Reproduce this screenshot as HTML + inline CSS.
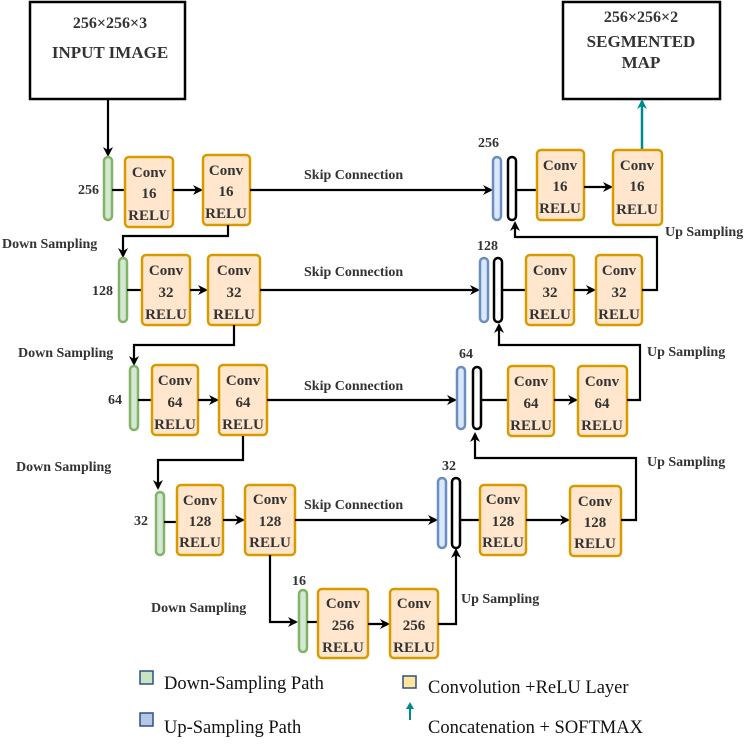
<!DOCTYPE html>
<html><head><meta charset="utf-8"><style>
html,body{margin:0;padding:0;background:#fff;}
svg{display:block;}
svg text{font-family:"Liberation Serif","DejaVu Serif",serif;fill:#333;}
.b{font-weight:bold;font-size:14px;}
.c{font-weight:bold;font-size:15px;text-anchor:middle;}
.lg{font-size:18.5px;fill:#111;}
.cv{fill:#ffe6cc;stroke:#d79b00;stroke-width:2.5;}
.gr{fill:#d5e8d4;stroke:#82b366;stroke-width:2.5;}
.bl{fill:#dae8fc;stroke:#6c8ebf;stroke-width:2.5;}
.bk{fill:#fff;stroke:#000;stroke-width:2.5;}
.ln{fill:none;stroke:#000;stroke-width:2.2;}
</style></head><body>
<svg width="750" height="744" viewBox="0 0 750 744" xmlns="http://www.w3.org/2000/svg" font-family="Liberation Serif, DejaVu Serif, serif">
<defs>
<marker id="a" markerWidth="10" markerHeight="10" refX="8" refY="5" orient="auto" markerUnits="userSpaceOnUse"><path d="M0,0 L10,5 L0,10 L3,5 z" fill="#000"/></marker>
<marker id="t" markerWidth="10" markerHeight="10" refX="8" refY="5" orient="auto" markerUnits="userSpaceOnUse"><path d="M0,0 L10,5 L0,10 L3,5 z" fill="#008b8b"/></marker>
</defs>
<rect x="30" y="2" width="155" height="97" fill="#fff" stroke="#000" stroke-width="2.5"/>
<text class="c" x="110" y="28" style="font-size:16px">256×256×3</text>
<text class="c" x="110" y="58" style="font-size:17px">INPUT IMAGE</text>
<rect x="563" y="2" width="157" height="97" fill="#fff" stroke="#000" stroke-width="2.5"/>
<text class="c" x="641" y="22" style="font-size:16px">256×256×2</text>
<text class="c" x="641" y="47" style="font-size:17px">SEGMENTED</text>
<text class="c" x="641" y="68" style="font-size:17px">MAP</text>
<line class="ln" x1="108" y1="99" x2="108" y2="155" marker-end="url(#a)"/>
<line x1="642" y1="150" x2="642" y2="101" stroke="#008b8b" stroke-width="2.5" marker-end="url(#t)"/>

<rect class="gr" x="104" y="157" width="8" height="63" rx="4"/>
<text class="b" x="78" y="194">256</text>
<line class="ln" x1="112" y1="190" x2="125" y2="190"/>
<rect class="cv" x="125" y="157" width="48" height="70" rx="4"/>
<text class="c" x="149" y="177">Conv</text><text class="c" x="149" y="198">16</text><text class="c" x="149" y="220">RELU</text>
<line class="ln" x1="173" y1="190" x2="201" y2="190" marker-end="url(#a)"/>
<rect class="cv" x="203" y="155" width="47" height="70" rx="4"/>
<text class="c" x="226" y="175">Conv</text><text class="c" x="226" y="196">16</text><text class="c" x="226" y="218">RELU</text>
<line class="ln" x1="250" y1="190" x2="491" y2="190" marker-end="url(#a)"/>
<text class="b" x="304" y="179">Skip Connection</text>
<text class="b" x="478" y="147">256</text>
<rect class="bl" x="493" y="157" width="8" height="63" rx="4"/>
<rect class="bk" x="508" y="157" width="8" height="63" rx="4"/>
<line class="ln" x1="516" y1="190" x2="537" y2="190"/>
<rect class="cv" x="537" y="150" width="47" height="70" rx="4"/>
<text class="c" x="560" y="170">Conv</text><text class="c" x="560" y="191">16</text><text class="c" x="560" y="213">RELU</text>
<line class="ln" x1="584" y1="187" x2="611" y2="187" marker-end="url(#a)"/>
<rect class="cv" x="613" y="150" width="49" height="75" rx="4"/>
<text class="c" x="637" y="170">Conv</text><text class="c" x="637" y="191">16</text><text class="c" x="637" y="214">RELU</text>
<text class="b" x="665" y="236">Up Sampling</text>
<polyline class="ln" points="228,225 228,236 123,236 123,256" marker-end="url(#a)"/>
<text class="b" x="2" y="248">Down Sampling</text>

<rect class="gr" x="119" y="258" width="8" height="64" rx="4"/>
<text class="b" x="92" y="295">128</text>
<line class="ln" x1="127" y1="290" x2="142" y2="290"/>
<rect class="cv" x="142" y="255" width="48" height="70" rx="4"/>
<text class="c" x="166" y="275">Conv</text><text class="c" x="166" y="297">32</text><text class="c" x="166" y="319">RELU</text>
<line class="ln" x1="190" y1="290" x2="206" y2="290" marker-end="url(#a)"/>
<rect class="cv" x="208" y="255" width="52" height="70" rx="4"/>
<text class="c" x="234" y="275">Conv</text><text class="c" x="234" y="297">32</text><text class="c" x="234" y="319">RELU</text>
<line class="ln" x1="260" y1="290" x2="478" y2="290" marker-end="url(#a)"/>
<text class="b" x="304" y="276">Skip Connection</text>
<text class="b" x="477" y="250">128</text>
<rect class="bl" x="480" y="258" width="8" height="64" rx="4"/>
<rect class="bk" x="494" y="258" width="8" height="64" rx="4"/>
<line class="ln" x1="502" y1="290" x2="526" y2="290"/>
<rect class="cv" x="526" y="255" width="48" height="70" rx="4"/>
<text class="c" x="550" y="275">Conv</text><text class="c" x="550" y="297">32</text><text class="c" x="550" y="319">RELU</text>
<line class="ln" x1="574" y1="290" x2="594" y2="290" marker-end="url(#a)"/>
<rect class="cv" x="596" y="255" width="46" height="70" rx="4"/>
<text class="c" x="619" y="275">Conv</text><text class="c" x="619" y="297">32</text><text class="c" x="619" y="319">RELU</text>
<polyline class="ln" points="642,290 657,290 657,237 515,237 515,223" marker-end="url(#a)"/>
<polyline class="ln" points="234,325 234,345 134,345 134,364" marker-end="url(#a)"/>
<text class="b" x="18" y="357">Down Sampling</text>

<rect class="gr" x="130" y="366" width="8" height="64" rx="4"/>
<text class="b" x="108" y="404">64</text>
<line class="ln" x1="138" y1="400" x2="152" y2="400"/>
<rect class="cv" x="152" y="365" width="46" height="70" rx="4"/>
<text class="c" x="175" y="385">Conv</text><text class="c" x="175" y="407">64</text><text class="c" x="175" y="429">RELU</text>
<line class="ln" x1="198" y1="400" x2="217" y2="400" marker-end="url(#a)"/>
<rect class="cv" x="219" y="365" width="48" height="70" rx="4"/>
<text class="c" x="243" y="385">Conv</text><text class="c" x="243" y="407">64</text><text class="c" x="243" y="429">RELU</text>
<line class="ln" x1="267" y1="400" x2="455" y2="400" marker-end="url(#a)"/>
<text class="b" x="304" y="390">Skip Connection</text>
<text class="b" x="459" y="358">64</text>
<rect class="bl" x="457" y="367" width="8" height="62" rx="4"/>
<rect class="bk" x="473" y="367" width="8" height="62" rx="4"/>
<line class="ln" x1="481" y1="400" x2="508" y2="400"/>
<rect class="cv" x="508" y="366" width="46" height="70" rx="4"/>
<text class="c" x="531" y="386">Conv</text><text class="c" x="531" y="408">64</text><text class="c" x="531" y="430">RELU</text>
<line class="ln" x1="554" y1="400" x2="576" y2="400" marker-end="url(#a)"/>
<rect class="cv" x="578" y="366" width="49" height="70" rx="4"/>
<text class="c" x="602" y="386">Conv</text><text class="c" x="602" y="408">64</text><text class="c" x="602" y="430">RELU</text>
<polyline class="ln" points="627,400 640,400 640,345 499,345 499,325" marker-end="url(#a)"/>
<text class="b" x="647" y="356">Up Sampling</text>
<polyline class="ln" points="243,436 243,460 158,460 158,488" marker-end="url(#a)"/>
<text class="b" x="16" y="471">Down Sampling</text>

<rect class="gr" x="156" y="492" width="8" height="63" rx="4"/>
<text class="b" x="134" y="525">32</text>
<line class="ln" x1="164" y1="522" x2="177" y2="522"/>
<rect class="cv" x="177" y="485" width="46" height="70" rx="4"/>
<text class="c" x="200" y="505">Conv</text><text class="c" x="200" y="526">128</text><text class="c" x="200" y="547">RELU</text>
<line class="ln" x1="223" y1="520" x2="243" y2="520" marker-end="url(#a)"/>
<rect class="cv" x="245" y="485" width="50" height="70" rx="4"/>
<text class="c" x="270" y="504">Conv</text><text class="c" x="270" y="526">128</text><text class="c" x="270" y="547">RELU</text>
<line class="ln" x1="295" y1="520" x2="436" y2="520" marker-end="url(#a)"/>
<text class="b" x="304" y="509">Skip Connection</text>
<text class="b" x="442" y="470">32</text>
<rect class="bl" x="438" y="478" width="8" height="70" rx="4"/>
<rect class="bk" x="452" y="478" width="8" height="70" rx="4"/>
<line class="ln" x1="460" y1="520" x2="480" y2="520"/>
<rect class="cv" x="480" y="485" width="46" height="70" rx="4"/>
<text class="c" x="503" y="504">Conv</text><text class="c" x="503" y="526">128</text><text class="c" x="503" y="547">RELU</text>
<line class="ln" x1="526" y1="520" x2="568" y2="520" marker-end="url(#a)"/>
<rect class="cv" x="570" y="486" width="51" height="70" rx="4"/>
<text class="c" x="595" y="506">Conv</text><text class="c" x="595" y="527">128</text><text class="c" x="595" y="548">RELU</text>
<polyline class="ln" points="621,520 636,520 636,458 475,458 475,434" marker-end="url(#a)"/>
<text class="b" x="647" y="466">Up Sampling</text>
<polyline class="ln" points="270,555 270,622 296,622" marker-end="url(#a)"/>
<text class="b" x="151" y="612">Down Sampling</text>

<text class="b" x="292" y="585">16</text>
<rect class="gr" x="299" y="590" width="8" height="62" rx="4"/>
<line class="ln" x1="307" y1="622" x2="318" y2="622"/>
<rect class="cv" x="318" y="589" width="50" height="69" rx="4"/>
<text class="c" x="343" y="608">Conv</text><text class="c" x="343" y="630">256</text><text class="c" x="343" y="652">RELU</text>
<line class="ln" x1="368" y1="624" x2="388" y2="624" marker-end="url(#a)"/>
<rect class="cv" x="390" y="589" width="48" height="69" rx="4"/>
<text class="c" x="414" y="608">Conv</text><text class="c" x="414" y="630">256</text><text class="c" x="414" y="652">RELU</text>
<polyline class="ln" points="438,624 456,624 456,550" marker-end="url(#a)"/>
<text class="b" x="461" y="603">Up Sampling</text>

<rect x="140" y="671" width="13" height="13" fill="#c9e4c0" stroke="#2d4f8a" stroke-width="1.5"/>
<text class="lg" x="164" y="689">Down-Sampling Path</text>
<rect x="140" y="713" width="13" height="13" fill="#b4c7e7" stroke="#2d4f8a" stroke-width="1.5"/>
<text class="lg" x="164" y="733">Up-Sampling Path</text>
<rect x="403" y="676" width="13" height="12" fill="#ffe699" stroke="#2d4f8a" stroke-width="1.5"/>
<text class="lg" x="428" y="693">Convolution +ReLU Layer</text>
<line x1="410" y1="720" x2="410" y2="706" stroke="#008b8b" stroke-width="2"/>
<path d="M406,709 L410,702 L414,709 z" fill="#008b8b"/>
<text class="lg" x="428" y="733">Concatenation + SOFTMAX</text>
</svg>
</body></html>
